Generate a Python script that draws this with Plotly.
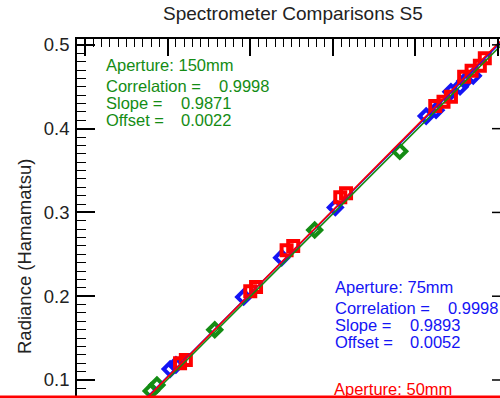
import plotly.graph_objects as go

# Radiance pairs (reference spectrometer, Hamamatsu) for each aperture
ap150_x = [0.080, 0.087, 0.157, 0.278, 0.381]
ap150_y = [0.087, 0.094, 0.160, 0.279, 0.373]

ap75_x = [0.103, 0.110, 0.192, 0.238, 0.303, 0.413, 0.425, 0.443, 0.454, 0.460, 0.470]
ap75_y = [0.113, 0.118, 0.199, 0.246, 0.306, 0.415, 0.422, 0.444, 0.450, 0.457, 0.463]

ap50_x = [0.115, 0.122, 0.200, 0.207, 0.244, 0.252, 0.309, 0.316,
          0.424, 0.434, 0.443, 0.459, 0.468, 0.478, 0.484]
ap50_y = [0.120, 0.124, 0.206, 0.211, 0.255, 0.260, 0.318, 0.323,
          0.427, 0.432, 0.438, 0.462, 0.469, 0.475, 0.484]

# Linear fit results: Hamamatsu = slope * x + offset
ap150_fit = dict(corr=0.9998, slope=0.9871, offset=0.0022)
ap75_fit = dict(corr=0.9998, slope=0.9893, offset=0.0052)
ap50_fit = dict(slope=0.995, offset=0.004)

y_ticks = [0.1, 0.2, 0.3, 0.4, 0.5]

GREEN = "rgb(20,140,20)"
BLUE = "rgb(20,20,245)"
RED = "rgb(255,0,0)"
FONT = "Liberation Sans, Arial, Helvetica, sans-serif"

W, H = 500, 398
ML, MR, MT, MB = 77, 0, 39, 0
PW, PH = W - ML - MR, H - MT - MB
X_RANGE = [-0.0098, 0.5024]
Y_RANGE = [0.0785, 0.507]


def px(x):
    return (x - ML) / PW


def py(y):
    return (H - MB - y) / PH


fig = go.Figure()

series = [
    (ap150_x, ap150_y, ap150_fit, GREEN, "diamond-open"),
    (ap75_x, ap75_y, ap75_fit, BLUE, "diamond-open"),
    (ap50_x, ap50_y, ap50_fit, RED, "square-open"),
]

for xs, ys, fit, col, sym in series:
    fig.add_trace(go.Scatter(
        x=xs, y=ys, mode="markers",
        marker=dict(symbol=sym, size=10, color=col, line=dict(width=4, color=col)),
        showlegend=False, cliponaxis=True,
    ))

for xs, ys, fit, col, sym in series:
    fx = X_RANGE
    fy = [fit["slope"] * v + fit["offset"] for v in fx]
    fig.add_trace(go.Scatter(
        x=fx, y=fy, mode="lines", line=dict(color=col, width=1.6),
        showlegend=False,
    ))

annotations = []


def label(text, x, y, color, size=16.5, **kw):
    annotations.append(dict(
        text=text, x=px(x), y=py(y), xref="paper", yref="paper",
        xanchor=kw.get("xanchor", "left"), yanchor="middle", showarrow=False,
        font=dict(family=FONT, size=size, color=color),
        textangle=kw.get("textangle", 0),
    ))


# Title and axis label
label("Spectrometer Comparisons S5", 293, 14, "#222222", size=19, xanchor="center")
label("Radiance (Hamamatsu)", 24, 257, "#222222", size=18.5, xanchor="center", textangle=-90)

# Fit statistics blocks
def stats_block(name, fit, x0, y0, color):
    label(name, x0, y0, color)
    rows = []
    if "corr" in fit:
        rows.append(("Correlation =", f"{fit['corr']:.4f}", 113))
        rows.append(("Slope =", f"{fit['slope']:.4f}", 75))
        rows.append(("Offset =", f"{fit['offset']:.4f}", 75))
    for i, (k, v, dx) in enumerate(rows):
        yy = y0 + 21 + 17 * i
        label(k, x0, yy, color)
        label(v, x0 + dx, yy, color)


stats_block("Aperture: 150mm", ap150_fit, 104, 65, GREEN)
stats_block("Aperture: 75mm", ap75_fit, 333, 287, BLUE)
stats_block("Aperture: 50mm", {}, 332, 389, RED)

# Major ticks of the right-hand axis
shapes = []
for t in y_ticks:
    shapes.append(dict(type="line", xref="paper", yref="y", x0=px(492), x1=1.0,
                       y0=t, y1=t, line=dict(color="black", width=1.5)))
# red rule along the bottom edge
shapes.append(dict(type="line", xref="paper", yref="paper", x0=-ML / PW, x1=1.0 + 0.01,
                   y0=py(397), y1=py(397), line=dict(color=RED, width=3)))

fig.update_layout(
    width=W, height=H,
    margin=dict(l=ML, r=MR, t=MT, b=MB, pad=0),
    paper_bgcolor="white", plot_bgcolor="white",
    annotations=annotations, shapes=shapes,
    xaxis=dict(
        range=X_RANGE, side="top", showline=True, linecolor="black", linewidth=1.5,
        ticks="inside", ticklen=17, tickwidth=1.5, tickcolor="black",
        tick0=0, dtick=0.1, showticklabels=False, showgrid=False, zeroline=False,
        minor=dict(ticks="inside", ticklen=8, tickwidth=1.2, tickcolor="black",
                   tick0=0, dtick=0.01, showgrid=False),
    ),
    yaxis=dict(
        range=Y_RANGE, showline=True, linecolor="black", linewidth=1.5,
        ticks="inside", ticklen=18, tickwidth=1.5, tickcolor="black",
        tickmode="array", tickvals=y_ticks, tickformat=".1f",
        tickfont=dict(family=FONT, size=18.5, color="#222222"),
        ticklabelstandoff=2,
        showgrid=False, zeroline=False,
        minor=dict(ticks="inside", ticklen=9, tickwidth=1.2, tickcolor="black",
                   tick0=0, dtick=0.01, showgrid=False),
    ),
)

fig.write_html("out.html")
